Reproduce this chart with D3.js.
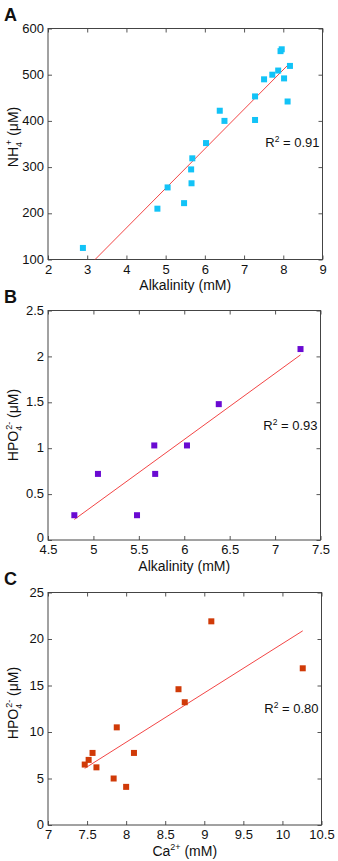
<!DOCTYPE html>
<html>
<head>
<meta charset="utf-8">
<script src="https://cdn.jsdelivr.net/npm/d3@7"></script>
<style>
  body { margin: 0; background: #fff; }
  svg { display: block; font-family: "Liberation Sans", Arial, Helvetica, sans-serif; }
</style>
</head>
<body>
<div id="chart"></div>
<script>
// Panel A : NH4+ vs alkalinity
var alkA = [2.89, 4.79, 5.05, 5.47, 5.65, 5.66, 5.68, 6.03, 6.38, 6.5, 7.28, 7.28, 7.51, 7.72, 7.87, 7.93, 7.96, 8.02, 8.11, 8.17];
var nh4A = [125, 210, 256, 222, 295, 265, 319, 352, 422, 400, 453, 402, 490, 500, 509, 551, 555, 492, 442, 519];
var fitA = {slope: 85.6, intercept: -174, x0: 3.2, x1: 8.1};

// Panel B : HPO4 2- vs alkalinity
var alkB = [4.79, 5.05, 5.48, 5.67, 5.68, 6.03, 6.38, 7.28];
var hpoB = [0.27, 0.72, 0.27, 1.03, 0.72, 1.03, 1.48, 2.08];
var fitB = {slope: 0.72, intercept: -3.225, x0: 4.79, x1: 7.28};

// Panel C : HPO4 2- vs Ca2+
var caC = [7.47, 7.52, 7.57, 7.62, 7.84, 7.88, 8.0, 8.1, 8.67, 8.75, 9.09, 10.26];
var hpoC = [6.5, 7.0, 7.75, 6.2, 5.0, 10.5, 4.1, 7.75, 14.6, 13.2, 21.9, 16.85];
var fitC = {slope: 5.3, intercept: -33.5, x0: 7.47, x1: 10.26};

var ticksA_x = [2, 3, 4, 5, 6, 7, 8, 9];
var ticksA_y = [100, 200, 300, 400, 500, 600];
var ticksB_x = [4.5, 5, 5.5, 6, 6.5, 7, 7.5];
var ticksB_y = [0, 0.5, 1, 1.5, 2, 2.5];
var ticksC_x = [7, 7.5, 8, 8.5, 9, 9.5, 10, 10.5];
var ticksC_y = [0, 5, 10, 15, 20, 25];

var r2Labels = ["0.91", "0.93", "0.80"];

var W = 338, H = 861;
var svg = d3.select("#chart").append("svg")
  .attr("width", W).attr("height", H);

var panels = [
  {letter: "A", xs: alkA, ys: nh4A, fit: fitA, xd: [2, 9], yd: [100, 600], xt: ticksA_x, yt: ticksA_y,
   color: "#12c3f7", left: 48, right: 322.5, top: 28.5, bottom: 259.5, r2y: 147, ylabY: 137, zeroLift: 0,
   xlab: "alk", ylab: "nh4", r2: r2Labels[0]},
  {letter: "B", xs: alkB, ys: hpoB, fit: fitB, xd: [4.5, 7.5], yd: [0, 2.5], xt: ticksB_x, yt: ticksB_y,
   color: "#6a0ad2", left: 48, right: 320.5, top: 310.5, bottom: 540, r2y: 430, ylabY: 425, zeroLift: 2.5,
   xlab: "alk", ylab: "hpo", r2: r2Labels[1]},
  {letter: "C", xs: caC, ys: hpoC, fit: fitC, xd: [7, 10.5], yd: [0, 25], xt: ticksC_x, yt: ticksC_y,
   color: "#d03a08", left: 48, right: 321.5, top: 592.5, bottom: 825, r2y: 713, ylabY: 703, zeroLift: 0,
   xlab: "ca", ylab: "hpo", r2: r2Labels[2]}
];

var fmt = function(d) { return String(d); };

panels.forEach(function(p) {
  var x = d3.scaleLinear().domain(p.xd).range([p.left, p.right]);
  var y = d3.scaleLinear().domain(p.yd).range([p.bottom, p.top]);
  var g = svg.append("g");

  // axes, ticks pointing inward on all four sides
  var ax = g.append("g").attr("transform", "translate(0," + p.bottom + ")")
    .call(d3.axisBottom(x).tickValues(p.xt).tickFormat(fmt).tickSizeInner(-4).tickSizeOuter(0).tickPadding(5));
  var ay = g.append("g").attr("transform", "translate(" + p.left + ",0)")
    .call(d3.axisLeft(y).tickValues(p.yt).tickFormat(fmt).tickSizeInner(-4).tickSizeOuter(0).tickPadding(4));
  var at = g.append("g").attr("transform", "translate(0," + p.top + ")")
    .call(d3.axisTop(x).tickValues(p.xt).tickFormat("").tickSizeInner(-4).tickSizeOuter(0));
  var ar = g.append("g").attr("transform", "translate(" + p.right + ",0)")
    .call(d3.axisRight(y).tickValues(p.yt).tickFormat("").tickSizeInner(-4).tickSizeOuter(0));

  [ax, ay, at, ar].forEach(function(a) {
    a.select(".domain").remove();
    a.selectAll("line").attr("stroke", "#555");
    a.selectAll("text").attr("fill", "#111").style("font-size", "13px").style("font-family", "Liberation Sans, Arial, sans-serif");
  });
  ay.selectAll("text").attr("dy", "0.28em")
    .attr("y", function(d, i) { return i === 0 ? -p.zeroLift : 0; });

  g.append("rect")
    .attr("x", p.left).attr("y", p.top)
    .attr("width", p.right - p.left).attr("height", p.bottom - p.top)
    .attr("fill", "none").attr("stroke", "#444").attr("stroke-width", 1);

  // fit line
  g.append("line")
    .attr("x1", x(p.fit.x0)).attr("y1", y(p.fit.slope * p.fit.x0 + p.fit.intercept))
    .attr("x2", x(p.fit.x1)).attr("y2", y(p.fit.slope * p.fit.x1 + p.fit.intercept))
    .attr("stroke", "#f03030").attr("stroke-width", 0.9);

  // points
  g.selectAll("rect.pt").data(p.xs).enter().append("rect")
    .attr("class", "pt")
    .attr("x", function(d) { return x(d) - 3; })
    .attr("y", function(d, i) { return y(p.ys[i]) - 3; })
    .attr("width", 6).attr("height", 6)
    .attr("fill", p.color);

  // panel letter
  svg.append("text").attr("x", 4).attr("y", p.top - 7.5)
    .style("font-size", "18px").style("font-weight", "bold").attr("fill", "#111")
    .text(p.letter);

  // R2
  var r = g.append("text").attr("x", p.right - 3).attr("y", p.r2y)
    .attr("text-anchor", "end").style("font-size", "13px").attr("fill", "#111");
  r.append("tspan").text("R");
  r.append("tspan").attr("dy", -5).style("font-size", "8.5px").text("2");
  r.append("tspan").attr("dy", 5).text(" = " + p.r2);

  // x label
  var xl = g.append("text").attr("x", (p.left + p.right) / 2).attr("y", p.bottom + 30.5)
    .attr("text-anchor", "middle").style("font-size", "14px").attr("fill", "#111");
  if (p.xlab === "alk") {
    xl.text("Alkalinity (mM)");
  } else {
    xl.append("tspan").text("Ca");
    xl.append("tspan").attr("dy", -5.5).style("font-size", "9px").text("2+");
    xl.append("tspan").attr("dy", 5.5).text(" (mM)");
  }

  // y label
  var yl = g.append("text").attr("transform", "translate(18," + p.ylabY + ") rotate(-90)")
    .attr("text-anchor", "middle").style("font-size", "14px").attr("fill", "#111");
  if (p.ylab === "nh4") {
    yl.append("tspan").text("NH");
    yl.append("tspan").attr("dy", 3.5).style("font-size", "9px").text("4");
    yl.append("tspan").attr("dy", -10).attr("dx", -3).style("font-size", "9px").text("+");
    yl.append("tspan").attr("dy", 6.5).text(" (\u03bcM)");
  } else {
    yl.append("tspan").text("HPO");
    yl.append("tspan").attr("dy", 3.5).style("font-size", "9px").text("4");
    yl.append("tspan").attr("dy", -10).attr("dx", -4).style("font-size", "9px").text("2-");
    yl.append("tspan").attr("dy", 6.5).text(" (\u03bcM)");
  }
});
</script>
</body>
</html>
